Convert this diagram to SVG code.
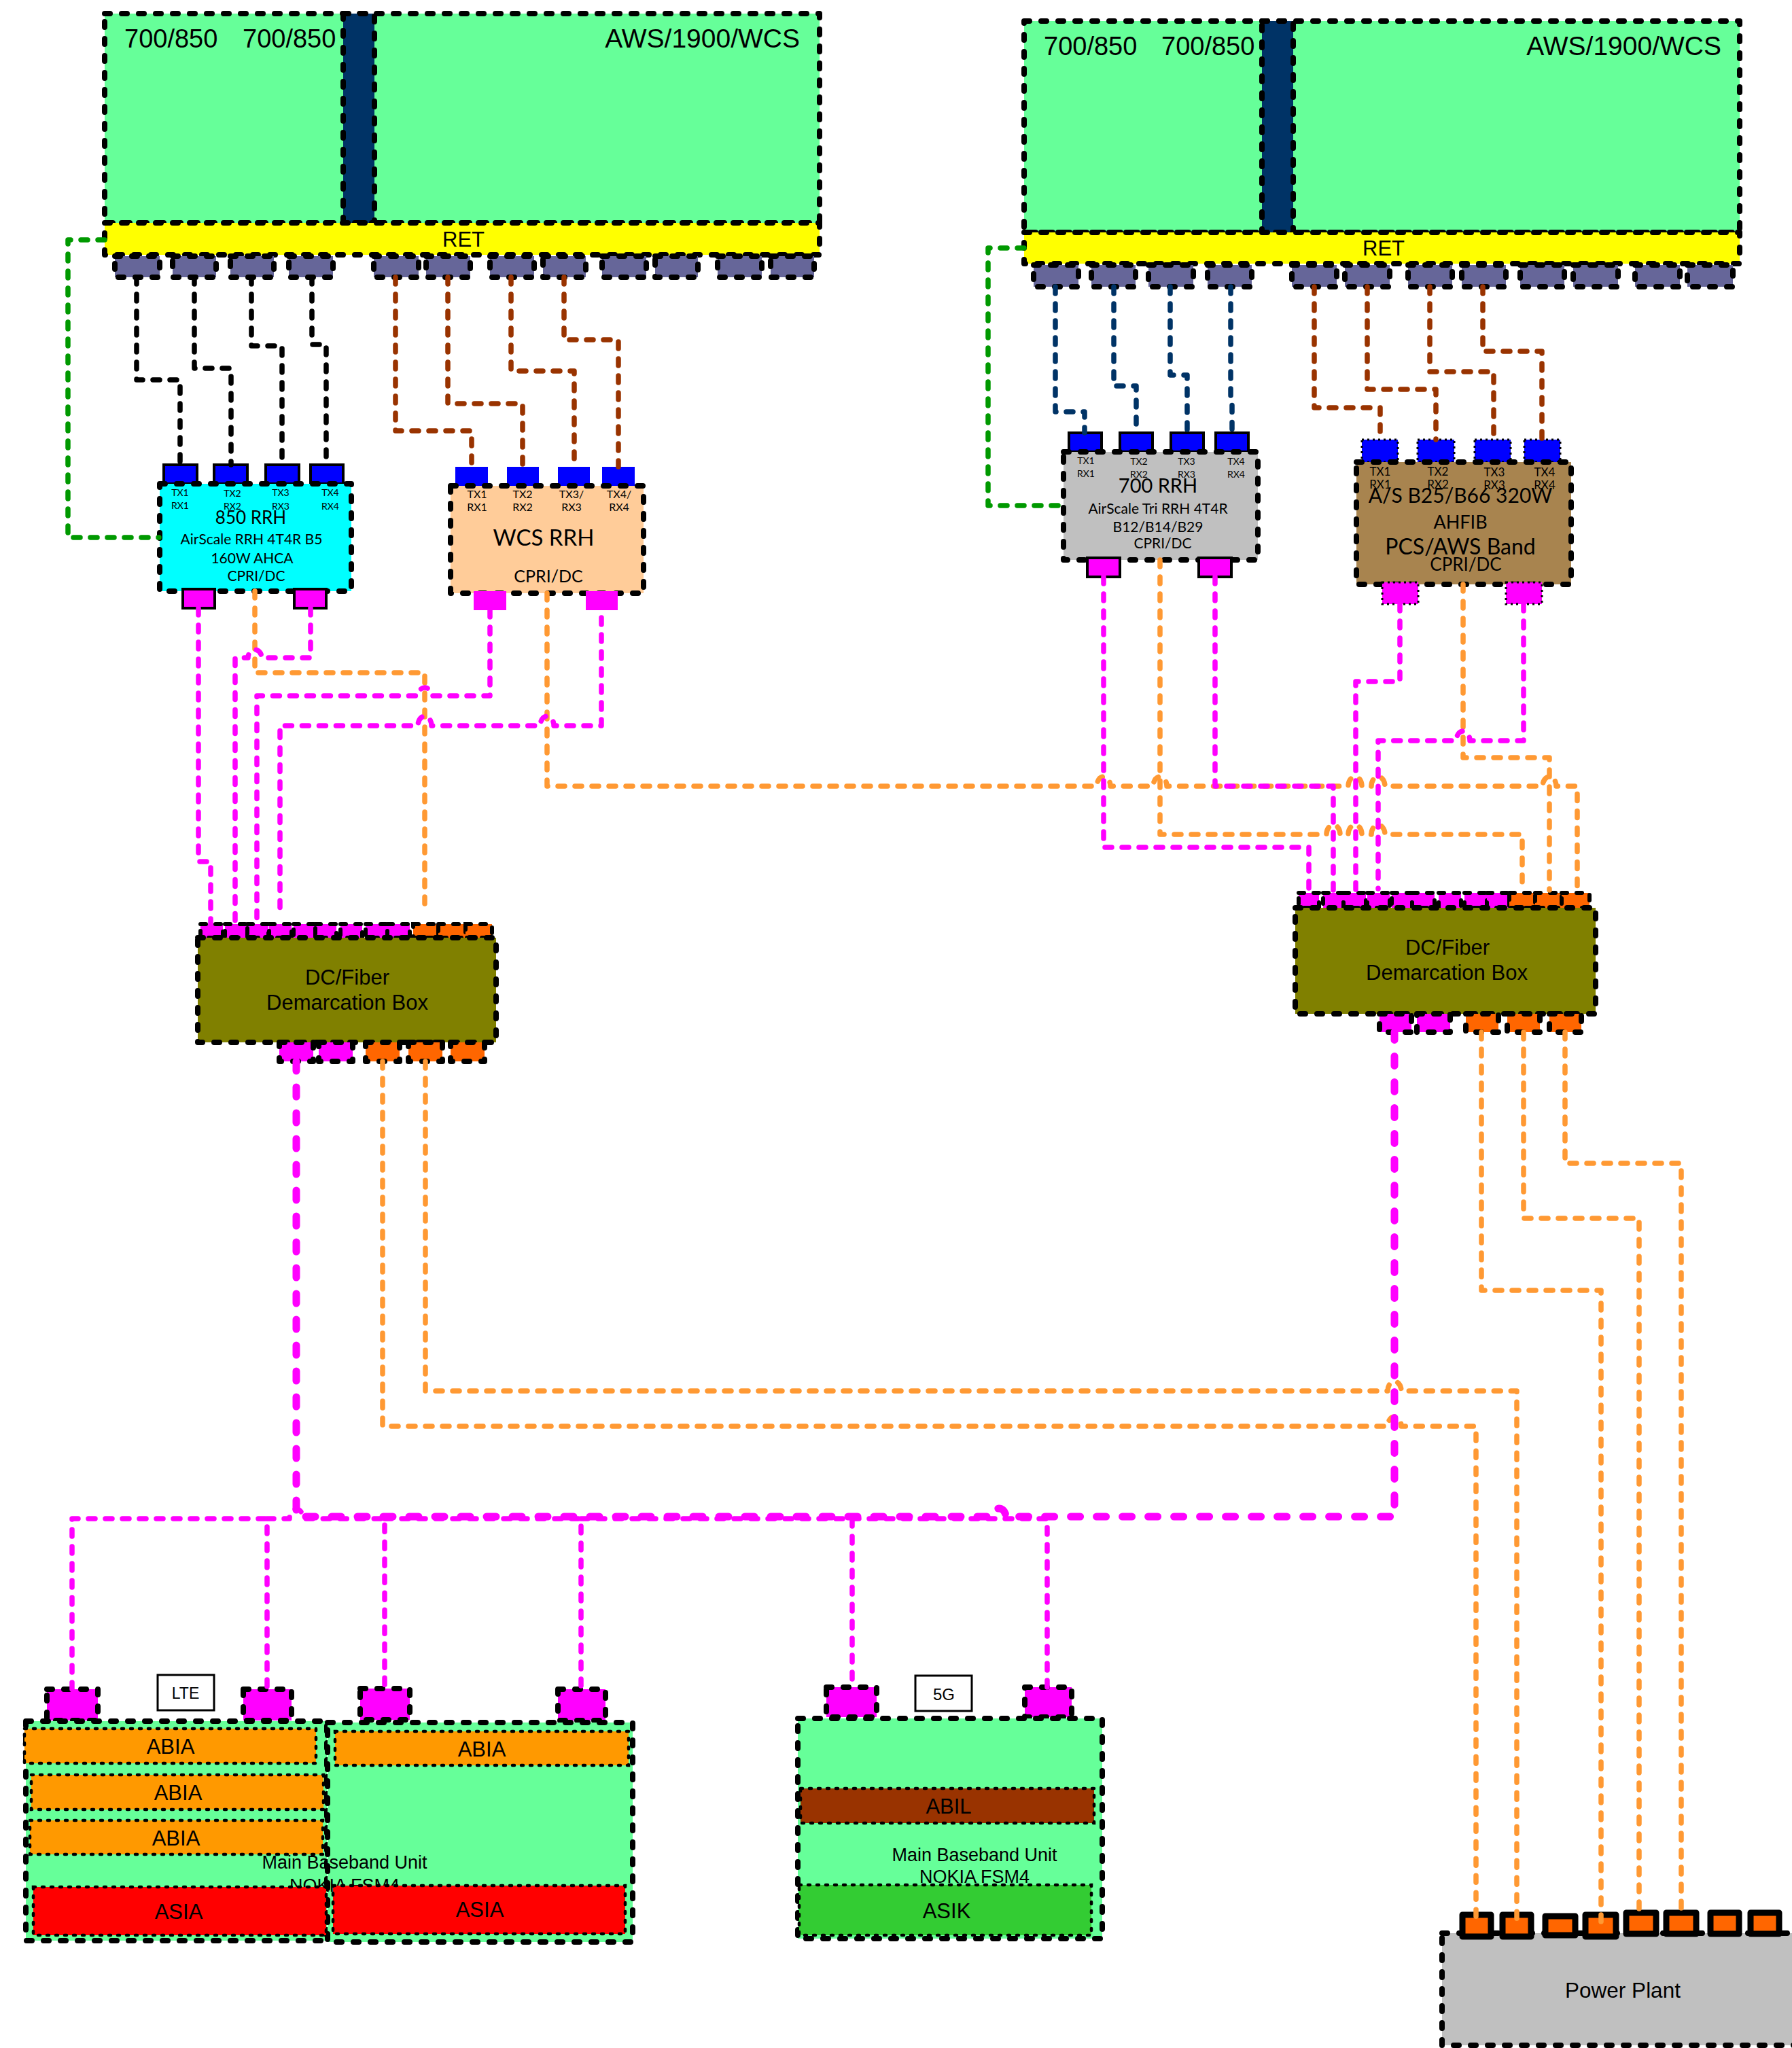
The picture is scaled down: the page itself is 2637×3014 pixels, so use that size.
<svg xmlns="http://www.w3.org/2000/svg" width="2637" height="3014" viewBox="0 0 2637 3014">
<style>
.o{stroke:#000;stroke-width:8;stroke-dasharray:8 17;stroke-linecap:round;stroke-linejoin:round}
.os{stroke:#000;stroke-width:6;stroke-dasharray:8 14;stroke-linecap:round}
.d{stroke:#000;stroke-width:4.5;stroke-dasharray:3 10;stroke-linecap:round}
.dt{stroke:#000;stroke-width:3;stroke-dasharray:3 5}
.sl{stroke:#000;stroke-width:4}
.pp{stroke:#000;stroke-width:9;stroke-linejoin:round}
.w{fill:none;stroke-width:7.5;stroke-dasharray:10 15;stroke-linecap:round;stroke-linejoin:round}
.k{stroke:#000}.n{stroke:#003366}.b{stroke:#993300}.g{stroke:#009900}.m{stroke:#FF00FF}.r{stroke:#FF9933}
.th{stroke-width:11;stroke-dasharray:14 24}
.mint{fill:#66FF99}.navy{fill:#003366}.yel{fill:#FFFF00}.pur{fill:#666699}.blu{fill:#0000FF}.mag{fill:#FF00FF}.org{fill:#FF6600}.abia{fill:#FF9900}.red{fill:#FF0000}
text{font-family:"Liberation Sans",Arial,sans-serif;fill:#000;text-anchor:middle}
.l{font-family:Lato,"Liberation Sans",sans-serif}
.s{text-anchor:start}.e{text-anchor:end}
.t38{font-size:38px}.t31{font-size:31px}.t27{font-size:27px}
</style>

<g id="antenna-left">
<rect x="154" y="20" width="1052" height="308" class="mint o"/>
<rect x="505" y="20" width="46" height="308" class="navy o"/>
<text x="183" y="70" class="t38 s">700/850</text><text x="357" y="70" class="t38 s">700/850</text><text x="1177" y="70" class="e" style="font-size:39px">AWS/1900/WCS</text>
</g>
<g id="ret-left">
<rect x="154" y="328" width="1052" height="47" class="yel o"/>
<text x="682" y="363" class="t31">RET</text>
<g class="pur o">
<rect x="169" y="377" width="66" height="31"/><rect x="254" y="377" width="64" height="31"/><rect x="339" y="377" width="64" height="31"/><rect x="425" y="377" width="65" height="31"/><rect x="550" y="377" width="66" height="31"/><rect x="627" y="377" width="65" height="31"/><rect x="721" y="377" width="65" height="31"/><rect x="799" y="377" width="63" height="31"/><rect x="886" y="377" width="65" height="31"/><rect x="964" y="377" width="63" height="31"/><rect x="1056" y="377" width="65" height="31"/><rect x="1134" y="377" width="64" height="31"/>
</g>
</g>

<g id="antenna-right">
<rect x="1507" y="31" width="1053" height="311" class="mint o"/>
<rect x="1857" y="31" width="46" height="311" class="navy o"/>
<text x="1536" y="81" class="t38 s">700/850</text><text x="1709" y="81" class="t38 s">700/850</text><text x="2533" y="81" class="e" style="font-size:39px">AWS/1900/WCS</text>
</g>
<g id="ret-right">
<rect x="1507" y="342" width="1053" height="46" class="yel o"/>
<text x="2036" y="376" class="t31">RET</text>
<g class="pur o">
<rect x="1521" y="390" width="66" height="32"/><rect x="1606" y="390" width="65" height="32"/><rect x="1690" y="390" width="66" height="32"/><rect x="1777" y="390" width="65" height="32"/><rect x="1901" y="390" width="66" height="32"/><rect x="1979" y="390" width="66" height="32"/><rect x="2072" y="390" width="65" height="32"/><rect x="2151" y="390" width="65" height="32"/><rect x="2237" y="390" width="65" height="32"/><rect x="2315" y="390" width="66" height="32"/><rect x="2406" y="390" width="66" height="32"/><rect x="2483" y="390" width="67" height="32"/>
</g>
</g>

<g id="rrh-850">
<rect x="241" y="684" width="49" height="28" class="blu sl"/><rect x="315" y="684" width="49" height="28" class="blu sl"/><rect x="391" y="684" width="49" height="28" class="blu sl"/><rect x="457" y="684" width="48" height="28" class="blu sl"/>
<rect x="235" y="712" width="282" height="158" fill="#00FFFF" class="o"/>
<rect x="269" y="867" width="47" height="28" class="mag sl"/><rect x="433" y="867" width="47" height="28" class="mag sl"/>
<g style="font-size:14px"><text class="l" x="265" y="730">TX1</text><text class="l" x="265" y="749">RX1</text><text class="l" x="342" y="731">TX2</text><text class="l" x="342" y="750">RX2</text><text class="l" x="413" y="730">TX3</text><text class="l" x="413" y="750">RX3</text><text class="l" x="486" y="730">TX4</text><text class="l" x="486" y="750">RX4</text></g>
<text class="l" x="369" y="771" style="font-size:26px">850 RRH</text>
<text class="l" x="370" y="801" style="font-size:21px">AirScale RRH 4T4R B5</text>
<text class="l" x="371" y="829" style="font-size:21px">160W AHCA</text>
<text class="l" x="377" y="855" style="font-size:21px">CPRI/DC</text>
</g>

<g id="rrh-wcs">
<rect x="670" y="687" width="48" height="28" class="blu"/><rect x="746" y="687" width="47" height="28" class="blu"/><rect x="821" y="687" width="47" height="28" class="blu"/><rect x="886" y="687" width="48" height="28" class="blu"/>
<rect x="663" y="715" width="284" height="158" fill="#FFCC99" class="o"/>
<rect x="697" y="870" width="48" height="28" class="mag"/><rect x="862" y="870" width="47" height="28" class="mag"/>
<g style="font-size:16px"><text class="l" x="702" y="733">TX1</text><text class="l" x="702" y="752">RX1</text><text class="l" x="769" y="733">TX2</text><text class="l" x="769" y="752">RX2</text><text class="l" x="841" y="733">TX3/</text><text class="l" x="841" y="752">RX3</text><text class="l" x="911" y="733">TX4/</text><text class="l" x="911" y="752">RX4</text></g>
<text class="l" x="800" y="803" style="font-size:33px">WCS RRH</text>
<text class="l" x="807" y="857" style="font-size:25px">CPRI/DC</text>
</g>

<g id="rrh-700">
<rect x="1573" y="637" width="48" height="28" class="blu sl"/><rect x="1648" y="637" width="48" height="28" class="blu sl"/><rect x="1723" y="637" width="48" height="28" class="blu sl"/><rect x="1789" y="637" width="48" height="28" class="blu sl"/>
<rect x="1565" y="665" width="286" height="159" fill="#C0C0C0" class="o"/>
<rect x="1600" y="821" width="48" height="28" class="mag sl"/><rect x="1764" y="821" width="48" height="28" class="mag sl"/>
<g style="font-size:14px"><text class="l" x="1598" y="683">TX1</text><text class="l" x="1598" y="702">RX1</text><text class="l" x="1676" y="684">TX2</text><text class="l" x="1676" y="703">RX2</text><text class="l" x="1746" y="684">TX3</text><text class="l" x="1746" y="703">RX3</text><text class="l" x="1819" y="684">TX4</text><text class="l" x="1819" y="703">RX4</text></g>
<text class="l" x="1704" y="725" style="font-size:29px">700 RRH</text>
<text class="l" x="1704" y="756" style="font-size:21px">AirScale Tri RRH 4T4R</text>
<text class="l" x="1704" y="783" style="font-size:21px">B12/B14/B29</text>
<text class="l" x="1711" y="807" style="font-size:21px">CPRI/DC</text>
</g>

<g id="rrh-as">
<rect x="2004" y="647" width="53" height="33" class="blu dt"/><rect x="2086" y="647" width="54" height="33" class="blu dt"/><rect x="2170" y="647" width="53" height="33" class="blu dt"/><rect x="2243" y="647" width="53" height="33" class="blu dt"/>
<rect x="1996" y="680" width="316" height="180" fill="#A8844F" class="o"/>
<rect x="2034" y="857" width="53" height="32" class="mag dt"/><rect x="2216" y="857" width="53" height="32" class="mag dt"/>
<g style="font-size:17px"><text class="l" x="2031" y="700">TX1</text><text class="l" x="2031" y="719">RX1</text><text class="l" x="2116" y="700">TX2</text><text class="l" x="2116" y="719">RX2</text><text class="l" x="2199" y="701">TX3</text><text class="l" x="2199" y="720">RX3</text><text class="l" x="2273" y="701">TX4</text><text class="l" x="2273" y="720">RX4</text></g>
<text class="l" x="2149" y="740" style="font-size:30px">A/S B25/B66 320W</text>
<text class="l" x="2149" y="778" style="font-size:27px">AHFIB</text>
<text class="l" x="2149" y="816" style="font-size:32px">PCS/AWS Band</text>
<text class="l" x="2157" y="840" style="font-size:26px">CPRI/DC</text>
</g>

<g id="demarc-left">
<g class="os"><g class="mag"><rect x="295" y="1360" width="33" height="20"/><rect x="331" y="1360" width="33" height="20"/><rect x="364" y="1360" width="31" height="20"/><rect x="396" y="1360" width="33" height="20"/><rect x="432" y="1360" width="32" height="20"/><rect x="464" y="1360" width="31" height="20"/><rect x="501" y="1360" width="32" height="20"/><rect x="538" y="1360" width="32" height="20"/><rect x="570" y="1360" width="33" height="20"/></g>
<g class="org"><rect x="608" y="1360" width="37" height="20"/><rect x="645" y="1360" width="40" height="20"/><rect x="685" y="1360" width="39" height="20"/></g></g>
<rect x="291" y="1380" width="439" height="154" fill="#808000" class="o"/>
<g class="o"><rect x="411" y="1534" width="50" height="28" class="mag"/><rect x="469" y="1534" width="50" height="28" class="mag"/><rect x="538" y="1534" width="50" height="28" class="org"/><rect x="601" y="1534" width="50" height="28" class="org"/><rect x="663" y="1534" width="50" height="28" class="org"/></g>
<text x="511" y="1449" class="t31">DC/Fiber</text><text x="511" y="1486" class="t31">Demarcation Box</text>
</g>

<g id="demarc-right">
<g class="os"><g class="mag"><rect x="1911" y="1314" width="30" height="22"/><rect x="1947" y="1314" width="30" height="22"/><rect x="1977" y="1314" width="33" height="22"/><rect x="2012" y="1314" width="33" height="22"/><rect x="2048" y="1314" width="30" height="22"/><rect x="2078" y="1314" width="33" height="22"/><rect x="2117" y="1314" width="33" height="22"/><rect x="2155" y="1314" width="33" height="22"/><rect x="2188" y="1314" width="33" height="22"/></g>
<g class="org"><rect x="2221" y="1314" width="38" height="22"/><rect x="2259" y="1314" width="39" height="22"/><rect x="2298" y="1314" width="41" height="22"/></g></g>
<rect x="1906" y="1336" width="442" height="156" fill="#808000" class="o"/>
<g class="o"><rect x="2030" y="1492" width="47" height="27" class="mag"/><rect x="2085" y="1492" width="49" height="27" class="mag"/><rect x="2157" y="1492" width="48" height="27" class="org"/><rect x="2218" y="1492" width="48" height="27" class="org"/><rect x="2280" y="1492" width="47" height="27" class="org"/></g>
<text x="2130" y="1405" class="t31">DC/Fiber</text><text x="2129" y="1442" class="t31">Demarcation Box</text>
</g>

<g id="bbu-lte">
<g class="o"><rect x="69" y="2486" width="75" height="46" class="mag"/><rect x="358" y="2486" width="71" height="46" class="mag"/><rect x="530" y="2485" width="73" height="46" class="mag"/><rect x="821" y="2486" width="70" height="46" class="mag"/></g>
<rect x="38" y="2533" width="443" height="323" class="mint o"/>
<rect x="482" y="2535" width="449" height="323" class="mint o"/>
<text x="507" y="2750" class="t27">Main Baseband Unit</text>
<text x="507" y="2784" class="t27">NOKIA FSM4</text>
<rect x="36" y="2544" width="429" height="51" class="abia d"/><rect x="46" y="2612" width="430" height="51" class="abia d"/><rect x="44" y="2679" width="431" height="50" class="abia d"/><rect x="493" y="2548" width="432" height="50" class="abia d"/>
<rect x="49" y="2777" width="431" height="71" class="red d"/><rect x="490" y="2775" width="430" height="71" class="red d"/>
<text x="251" y="2581" class="t31">ABIA</text><text x="262" y="2649" class="t31">ABIA</text><text x="259" y="2716" class="t31">ABIA</text><text x="709" y="2585" class="t31">ABIA</text>
<text x="263" y="2824" class="t31">ASIA</text><text x="706" y="2821" class="t31">ASIA</text>
</g>
<g id="label-lte"><rect x="232" y="2465" width="83" height="52" fill="#fff" stroke="#000" stroke-width="3"/><text x="273" y="2500" style="font-size:23px">LTE</text></g>

<g id="bbu-5g">
<g class="o"><rect x="1216" y="2483" width="74" height="44" class="mag"/><rect x="1508" y="2483" width="69" height="44" class="mag"/></g>
<rect x="1174" y="2529" width="448" height="324" class="mint o"/>
<rect x="1178" y="2632" width="432" height="51" fill="#993300" class="d"/>
<text x="1434" y="2739" class="t27">Main Baseband Unit</text>
<text x="1434" y="2771" class="t27">NOKIA FSM4</text>
<rect x="1176" y="2774" width="430" height="74" fill="#33CC33" class="d"/>
<text x="1396" y="2669" class="t31">ABIL</text><text x="1393" y="2823" class="t31">ASIK</text>
</g>
<g id="label-5g"><rect x="1347" y="2466" width="83" height="52" fill="#fff" stroke="#000" stroke-width="3"/><text x="1389" y="2502" style="font-size:24px">5G</text></g>

<g id="power-plant">
<rect x="2122" y="2845" width="530" height="165" fill="#C0C0C0" class="o"/>
<g class="pp org">
<rect x="2152" y="2818" width="42" height="32"/><rect x="2211" y="2818" width="42" height="32"/><rect x="2274" y="2820" width="44" height="28"/><rect x="2333" y="2818" width="45" height="32"/><rect x="2393" y="2815" width="44" height="31"/><rect x="2452" y="2815" width="44" height="31"/><rect x="2517" y="2815" width="42" height="31"/><rect x="2576" y="2815" width="42" height="31"/>
</g>
<text x="2388" y="2940" style="font-size:31.5px">Power Plant</text>
</g>

<g id="connectors">
<path class="w g" d="M154 353H100V791H234"/>
<path class="w g" d="M1507 365H1454V744H1565"/>
<path class="w k" d="M201 408V559H265V684"/><path class="w k" d="M286 408V542H340V684"/><path class="w k" d="M370 408V509H415V684"/><path class="w k" d="M459 408V507H480V684"/>
<path class="w b" d="M582 408V634H694V687"/><path class="w b" d="M659 408V594H769V687"/><path class="w b" d="M752 408V546H845V687"/><path class="w b" d="M830 408V500H910V687"/>
<path class="w n" d="M1553 422V606H1596V637"/><path class="w n" d="M1639 422V568H1672V637"/><path class="w n" d="M1722 422V552H1747V637"/><path class="w n" d="M1811 422V585L1813 590V637"/>
<path class="w b" d="M1934 422V600H2031V647"/><path class="w b" d="M2012 422V573H2113V647"/><path class="w b" d="M2104 422V547H2198V647"/><path class="w b" d="M2182 422V517H2269V647"/>
<path class="w r" d="M375 870V990H625V1344"/>
<path class="w r" d="M805 873V1157H1614a10 14 0 0 1 20 0H1697a10 14 0 0 1 20 0H1984a10 14 0 0 1 20 0H2018a10 14 0 0 1 20 0H2270a10 14 0 0 1 20 0H2321V1310"/>
<path class="w r" d="M1707 824V1228H1952a10 14 0 0 1 20 0H1984a10 14 0 0 1 20 0H2018a10 14 0 0 1 20 0H2240V1310"/>
<path class="w r" d="M2153 860V1115H2280V1310"/>
<path class="w m" d="M292 895V1268H310V1360"/>
<path class="w m" d="M457 895V968H385a10 12 0 0 0 -20 0H346V1360"/>
<path class="w m" d="M721 898V1024H635a10 12 0 0 0 -20 0H378V1360"/>
<path class="w m" d="M885 909V1068H815a10 14 0 0 0 -20 0H635a10 14 0 0 0 -20 0H412V1350"/>
<path class="w m" d="M1624 849V1247H1926V1315"/>
<path class="w m" d="M1788 849V1157H1962V1315"/>
<path class="w m" d="M2060 889V1003H1995V1315"/>
<path class="w m" d="M2242 889V1090H2163a10 14 0 0 0 -20 0H2028V1308"/>
<path class="w r" d="M563 1562V2099H2042a10 14 0 0 1 20 0H2172V2835"/>
<path class="w r" d="M626 1562V2047H2042a10 14 0 0 1 20 0H2232V2835"/>
<path class="w r" d="M2180 1519V1899H2356V2835"/>
<path class="w r" d="M2242 1519V1793H2412V2815"/>
<path class="w r" d="M2303 1519V1712H2474V2815"/>
<path class="w m" d="M106 2486V2235H393V2486"/>
<path class="w m" d="M393 2235H426a10 14 0 0 1 20 0H566V2486"/>
<path class="w m" d="M566 2235H855V2486"/>
<path class="w m" d="M855 2235H1254V2483"/>
<path class="w m" d="M1254 2235H1541V2483"/>
<path class="w m th" d="M436 1562V2232H1460a10 12 0 0 1 20 0H2052V1519"/>
</g>
</svg>
